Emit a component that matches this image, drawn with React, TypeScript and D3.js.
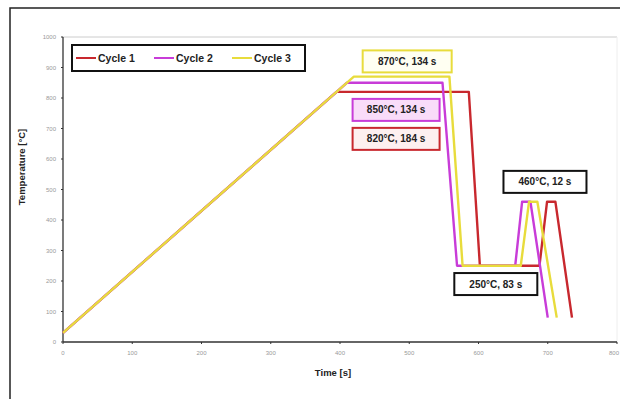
import * as d3 from "d3";

type Pt = [number, number];

// time [s], temperature [°C]
const cycle1: Pt[] = [[0, 30], [395, 820], [586, 820], [602, 250], [688, 250], [699, 460], [711, 460], [735, 80]];
const cycle2: Pt[] = [[0, 30], [410, 850], [548, 850], [569, 250], [653, 250], [663, 460], [675, 460], [700, 80]];
const cycle3: Pt[] = [[0, 30], [420, 870], [558, 870], [577, 250], [661, 250], [673, 460], [685, 460], [713, 80]];

const seriesNames = ["Cycle 1", "Cycle 2", "Cycle 3"];
const seriesColors = ["#c8282e", "#c83cd8", "#e8dc3c"];
const xTicks = [0, 100, 200, 300, 400, 500, 600, 700, 800];
const yTicks = [0, 100, 200, 300, 400, 500, 600, 700, 800, 900, 1000];

const noteTexts = ["870°C, 134 s", "850°C, 134 s", "820°C, 184 s", "460°C, 12 s", "250°C, 83 s"];
const noteAt: Pt[] = [[497, 920], [481, 761], [481, 666], [696, 525], [625, 190]];
const noteStroke = ["#e8dc3c", "#c83cd8", "#c8282e", "#111", "#111"];
const noteFill = ["#fffff2", "#f9dcf9", "#fdf0f0", "#fff", "#fff"];

export default function App() {
  const W = 620, H = 399;
  const x = d3.scaleLinear().domain([0, 800]).range([63, 617]);
  const y = d3.scaleLinear().domain([0, 1000]).range([342, 37]);
  const line = d3.line<Pt>().x((d) => x(d[0])).y((d) => y(d[1]));
  const data = [cycle1, cycle2, cycle3];
  const font = "Arial, 'Liberation Sans', sans-serif";

  return (
    <svg width={W} height={H} style={{ position: "absolute", left: 0, top: 0, background: "#fff" }} fontFamily={font}>
      {/* outer frame */}
      <rect x={10} y={8} width={W + 20} height={H + 20} fill="none" stroke="#222" strokeWidth={1.5} />
      {/* plot border */}
      <line x1={x(0)} x2={x(800)} y1={y(1000)} y2={y(1000)} stroke="#ccc" />
      <line x1={x(800)} x2={x(800)} y1={y(1000)} y2={y(0)} stroke="#eee" />

      {/* axes */}
      <line x1={x(0)} x2={x(800)} y1={y(0)} y2={y(0)} stroke="#333" strokeWidth={1.3} />
      <line x1={x(0)} x2={x(0)} y1={y(0)} y2={y(1000)} stroke="#333" strokeWidth={1.3} />
      {xTicks.map((t, i) => {
        const last = i === xTicks.length - 1;
        return (
          <g key={"x" + t}>
            <line x1={x(t)} x2={x(t)} y1={y(0)} y2={y(0) + 2} stroke="#333" />
            <text x={last ? W - 1 : x(t)} y={y(0) + 13} fontSize={6} fill="#999" textAnchor={last ? "end" : "middle"}>{t}</text>
          </g>
        );
      })}
      {yTicks.map((t) => (
        <g key={"y" + t}>
          <line x1={x(0) - 2} x2={x(0)} y1={y(t)} y2={y(t)} stroke="#333" />
          <text x={x(0) - 7} y={y(t) + 2} fontSize={6} fill="#999" textAnchor="end">{t}</text>
        </g>
      ))}
      <text x={333} y={376} fontSize={9.5} fontWeight="bold" fill="#222" textAnchor="middle">Time [s]</text>
      <text transform="translate(25,167) rotate(-90)" fontSize={9.5} fontWeight="bold" fill="#222" textAnchor="middle">Temperature [°C]</text>

      {/* series */}
      {data.map((d, i) => (
        <path key={i} d={line(d) ?? ""} fill="none" stroke={seriesColors[i]} strokeWidth={2.4} strokeLinejoin="round" />
      ))}

      {/* annotations */}
      {noteTexts.map((s, i) => {
        const cx = x(noteAt[i][0]);
        const cy = y(noteAt[i][1]);
        const w = i === 0 ? 89 : i >= 3 ? 83 : 87;
        const h = 22;
        return (
          <g key={s}>
            <rect x={cx - w / 2} y={cy - h / 2} width={w} height={h} fill={noteFill[i]} stroke={noteStroke[i]} strokeWidth={2} />
            <text x={cx} y={cy + 3.5} fontSize={10} fontWeight="bold" fill="#222" textAnchor="middle">{s}</text>
          </g>
        );
      })}

      {/* legend */}
      <rect x={72} y={45} width={233} height={26} fill="#fff" stroke="#111" strokeWidth={2} />
      {seriesNames.map((s, i) => {
        const lx = 76 + i * 78;
        return (
          <g key={s}>
            <line x1={lx} x2={lx + 20} y1={58} y2={58} stroke={seriesColors[i]} strokeWidth={2} />
            <text x={lx + 22} y={62} fontSize={10.5} fontWeight="bold" fill="#222">{s}</text>
          </g>
        );
      })}
    </svg>
  );
}
